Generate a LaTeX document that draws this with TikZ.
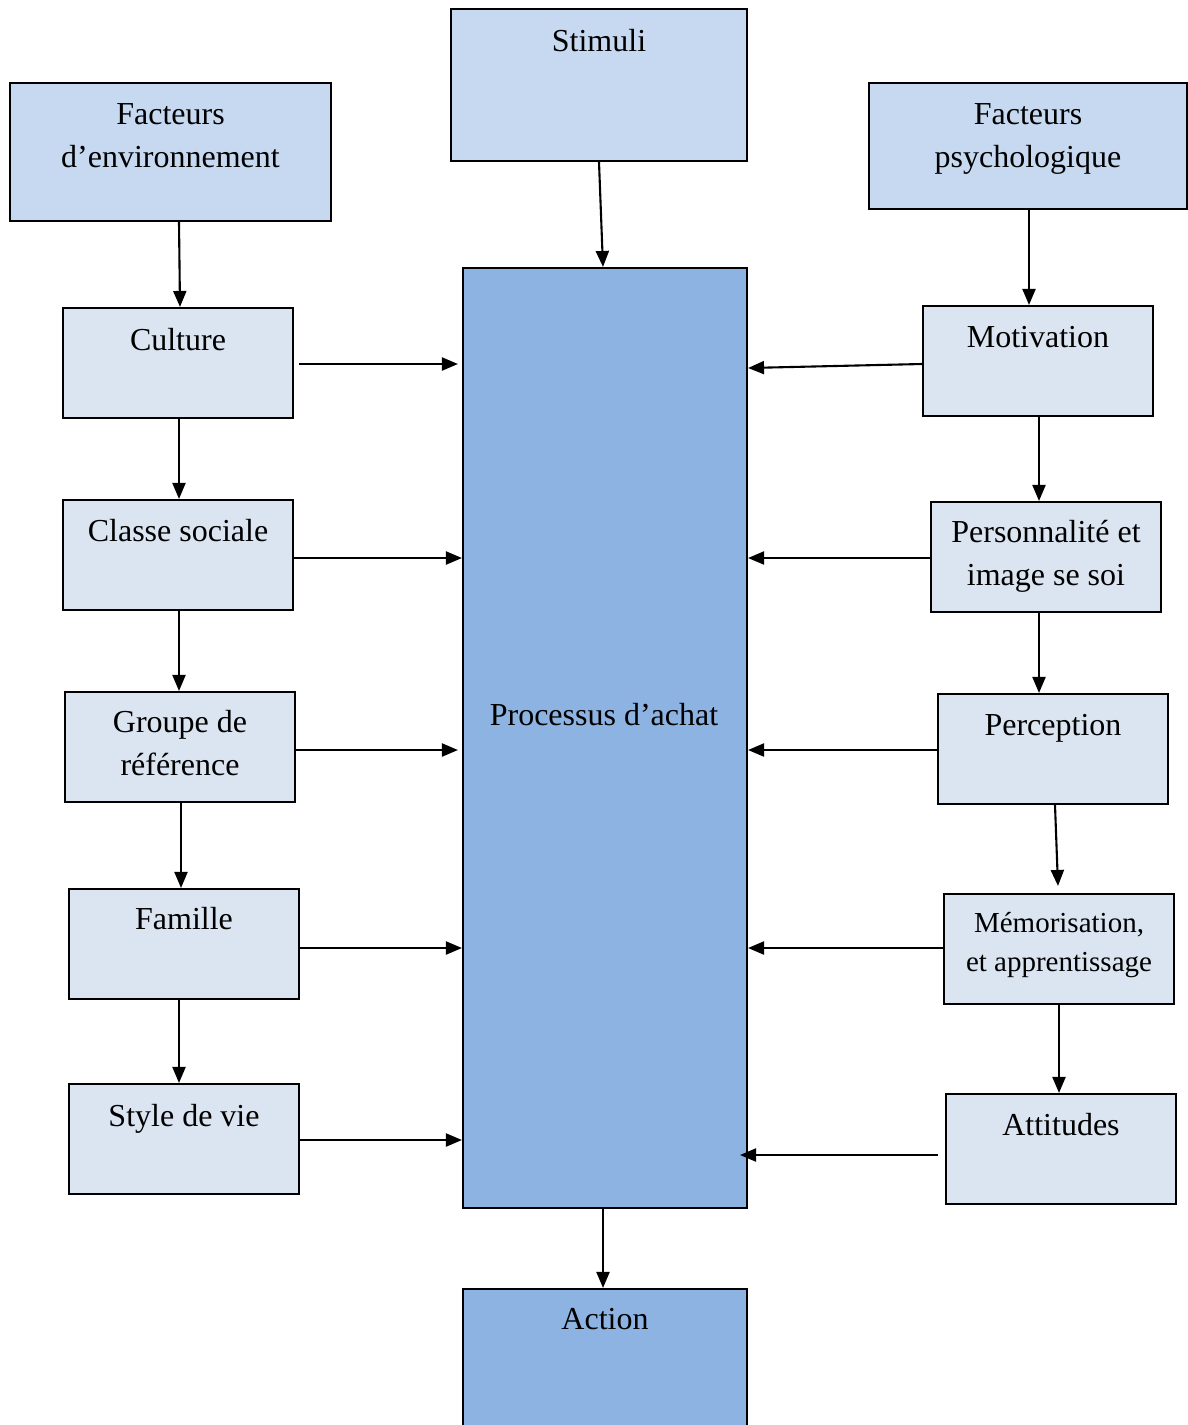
\documentclass[tikz,border=0pt]{standalone}
\usepackage{fontspec}
\setmainfont{Liberation Serif}
\usetikzlibrary{arrows.meta}
\definecolor{topblue}{HTML}{C6D9F1}
\definecolor{smallblue}{HTML}{DBE5F1}
\definecolor{bigblue}{HTML}{8DB3E2}
\tikzset{
  boxbase/.style={draw=black, line width=2.1pt, rectangle, inner sep=0pt},
  topbox/.style={boxbase, fill=topblue},
  smallbox/.style={boxbase, fill=smallblue, minimum width=230pt, minimum height=110pt},
  bigbox/.style={boxbase, fill=bigblue},
  txt/.style={font=\fontsize{32}{43}\selectfont, align=center, inner sep=0pt, anchor=base},
  smalltxt/.style={font=\fontsize{29}{39}\selectfont, align=center, inner sep=0pt, anchor=base},
  arr/.style={line width=2.1pt, -{Triangle[length=16pt, width=13pt]}}
}
\begin{document}
\begin{tikzpicture}[x=1pt, y=-1pt]
\useasboundingbox (0,0) rectangle (1188,1425);
% top boxes
\node[topbox, minimum width=296pt, minimum height=152pt] (stim) at (599,85) {};
\node[topbox, minimum width=321pt, minimum height=138pt] (env) at (170.5,152) {};
\node[topbox, minimum width=318pt, minimum height=126pt] (psy) at (1028,146) {};
% central
\node[bigbox, minimum width=284pt, minimum height=940pt] (proc) at (605,738) {};
\node[bigbox, minimum width=284pt, minimum height=160pt] (action) at (605,1369) {};
% left column
\node[smallbox] (cult) at (178,363) {};
\node[smallbox] (clas) at (178,555) {};
\node[smallbox] (grp) at (180,747) {};
\node[smallbox] (fam) at (184,944) {};
\node[smallbox] (sty) at (184,1139) {};
% right column
\node[smallbox] (mot) at (1038,361) {};
\node[smallbox] (pers) at (1046,557) {};
\node[smallbox] (perc) at (1053,749) {};
\node[smallbox] (mem) at (1059,949) {};
\node[smallbox] (att) at (1061,1149) {};
% texts (base anchor = baseline of last line)
\node[txt] (t-stim) at ([yshift=-44pt]stim.north) {Stimuli};
\node[txt] (t-env) at ([yshift=-86pt]env.north) {Facteurs\\d’environnement};
\node[txt] (t-psy) at ([yshift=-86pt]psy.north) {Facteurs\\psychologique};
\node[txt] (t-proc) at (604,725) {Processus d’achat};
\node[txt] (t-action) at ([yshift=-42pt]action.north) {Action};
\node[txt] (t-cult) at ([yshift=-44pt]cult.north) {Culture};
\node[txt] (t-clas) at ([yshift=-43pt]clas.north) {Classe sociale};
\node[txt] (t-grp) at ([yshift=-85pt]grp.north) {Groupe de\\référence};
\node[txt] (t-fam) at ([yshift=-42pt]fam.north) {Famille};
\node[txt] (t-sty) at ([yshift=-44pt]sty.north) {Style de vie};
\node[txt] (t-mot) at ([yshift=-43pt]mot.north) {Motivation};
\node[txt] (t-pers) at ([yshift=-85pt]pers.north) {Personnalité et\\image se soi};
\node[txt] (t-perc) at ([yshift=-43pt]perc.north) {Perception};
\node[smalltxt] (t-mem) at ([yshift=-79pt]mem.north) {Mémorisation,\\et apprentissage};
\node[txt] (t-att) at ([yshift=-43pt]att.north) {Attitudes};
% vertical arrows
\draw[arr] ([xshift=8.5pt]env.south) -- ([xshift=2pt]cult.north);
\draw[arr] (stim.south) -- ([xshift=-2pt]proc.north);
\draw[arr] ([xshift=1pt]psy.south) -- ([xshift=-9pt]mot.north);
\draw[arr] ([xshift=1pt]cult.south) -- ([xshift=1pt]clas.north);
\draw[arr] ([xshift=1pt]clas.south) -- ([xshift=1pt]clas.south |- grp.north);
\draw[arr] ([xshift=1pt]grp.south) -- ([xshift=1pt]grp.south |- fam.north);
\draw[arr] ([xshift=-5pt]fam.south) -- ([xshift=-5pt]sty.north);
\draw[arr] ([xshift=1pt]mot.south) -- ([xshift=1pt]mot.south |- pers.north);
\draw[arr] ([xshift=-7pt]pers.south) -- ([xshift=-7pt]pers.south |- perc.north);
\draw[arr] ([xshift=2pt]perc.south) -- ([xshift=-1pt,yshift=7pt]mem.north);
\draw[arr] (mem.south) -- (mem.south |- att.north);
\draw[arr] ([xshift=-2pt]proc.south) -- ([xshift=-2pt]action.north);
% left horizontal arrows
\draw[arr] ([xshift=5pt,yshift=-1pt]cult.east) -- ([xshift=-4pt,yshift=-1pt]proc.west |- cult.east);
\draw[arr] ([yshift=-3pt]clas.east) -- ([yshift=-3pt]proc.west |- clas.east);
\draw[arr] ([yshift=-3pt]grp.east) -- ([xshift=-4pt,yshift=-3pt]proc.west |- grp.east);
\draw[arr] ([yshift=-4pt]fam.east) -- ([yshift=-4pt]proc.west |- fam.east);
\draw[arr] ([yshift=-1pt]sty.east) -- ([yshift=-1pt]proc.west |- sty.east);
% right horizontal arrows
\draw[arr] ([yshift=-3pt]mot.west) -- ([yshift=-7pt]proc.east |- mot.west);
\draw[arr] ([yshift=-1pt]pers.west) -- ([yshift=-1pt]proc.east |- pers.west);
\draw[arr] ([yshift=-1pt]perc.west) -- ([yshift=-1pt]proc.east |- perc.west);
\draw[arr] ([yshift=1pt]mem.west) -- ([yshift=1pt]proc.east |- mem.west);
\draw[arr] ([xshift=-7pt,yshift=-6pt]att.west) -- ([xshift=-8pt,yshift=-6pt]proc.east |- att.west);
\end{tikzpicture}
\end{document}
